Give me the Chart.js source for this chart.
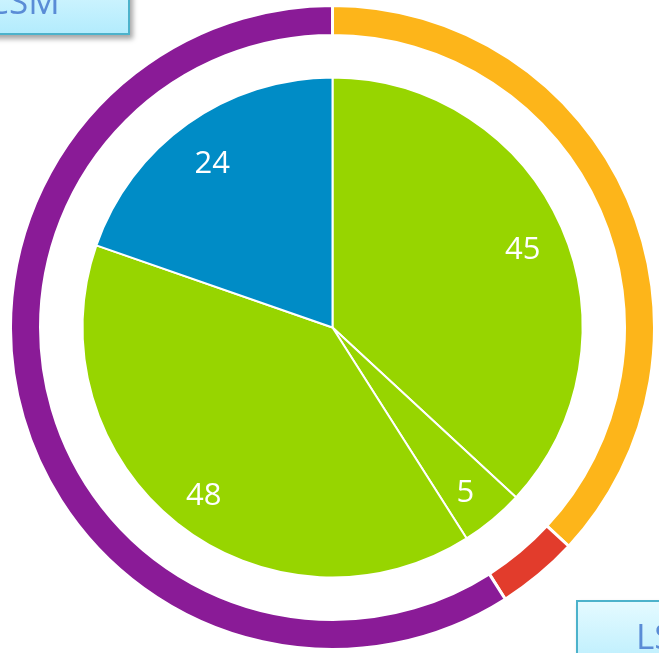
<!DOCTYPE html>
<html>
<head>
<meta charset="utf-8">
<script src="https://cdn.jsdelivr.net/npm/chart.js@4.4.0/dist/chart.umd.min.js"></script>
<style>
  html, body { margin: 0; padding: 0; background: #fff; overflow: hidden; }
  #wrap { position: relative; width: 659px; height: 653px; overflow: hidden; }
  canvas { position: absolute; left: 0; top: 0; }
  .tag {
    position: absolute;
    box-sizing: border-box;
    border: 2px solid #4cb2cb;
    background: linear-gradient(#e4faff, #b3ecfd);
    box-shadow: 3px 4px 5px rgba(0, 0, 0, 0.35);
    font-family: "Open Sans", sans-serif;
    font-size: 35px;
    color: #5a8cd6;
  }
  .tag span { position: absolute; white-space: nowrap; line-height: 1; }
</style>
</head>
<body>
<div id="wrap">
  <canvas id="pieChart" width="659" height="653"></canvas>
  <div class="tag" style="left:-70px; top:-40px; width:200px; height:75px;"><span style="left:55px; top:21px;">CSM</span></div>
  <div class="tag" style="left:576px; top:600px; width:160px; height:80px;"><span style="left:58px; top:16px;">LSM</span></div>
</div>
<script>
// inner pie
var innerLabels = ['A', 'B', 'C', 'D']
var innerValues = [45, 5, 48, 24]
var innerColors = ['#97d500', '#97d500', '#97d500', '#008cc6']

// outer ring
var outerLabels = ['Orange', 'Red', 'Purple']
var outerValues = [45, 5, 72]
var outerColors = ['#fdb51a', '#e23c2c', '#8a1b97']

var valueLabels = {
  id: 'valueLabels',
  afterDatasetsDraw: function (chart) {
    var ctx = chart.ctx
    var meta = chart.getDatasetMeta(2)
    ctx.save()
    ctx.fillStyle = '#ffffff'
    ctx.font = '31px "Open Sans", sans-serif'
    ctx.textAlign = 'center'
    ctx.textBaseline = 'middle'
    meta.data.forEach(function (arc, i) {
      var p = arc.getProps(['x', 'y', 'startAngle', 'endAngle', 'outerRadius'], true)
      var mid = (p.startAngle + p.endAngle) / 2
      var r = p.outerRadius * 0.83
      ctx.fillText(String(innerValues[i]), p.x + Math.cos(mid) * r, p.y + 6 + Math.sin(mid) * r)
    })
    ctx.restore()
  }
}

let pieChart = new Chart(document.getElementById('pieChart'), {
  type: 'doughnut',
  data: {
    labels: innerLabels,
    datasets: [
      {
        label: 'outer',
        data: outerValues,
        backgroundColor: outerColors,
        borderColor: '#ffffff',
        borderWidth: 3,
        weight: 30
      },
      {
        label: 'gap',
        data: [1],
        backgroundColor: 'rgba(0,0,0,0)',
        borderWidth: 0,
        weight: 42
      },
      {
        label: 'inner',
        data: innerValues,
        backgroundColor: innerColors,
        borderColor: '#ffffff',
        borderWidth: 2,
        weight: 250
      }
    ]
  },
  options: {
    responsive: false,
    animation: false,
    cutout: 0,
    layout: { padding: { left: 9, right: 3, top: 4, bottom: 2 } },
    plugins: {
      legend: { display: false },
      tooltip: { enabled: false }
    }
  },
  plugins: [valueLabels]
})
</script>
</body>
</html>
